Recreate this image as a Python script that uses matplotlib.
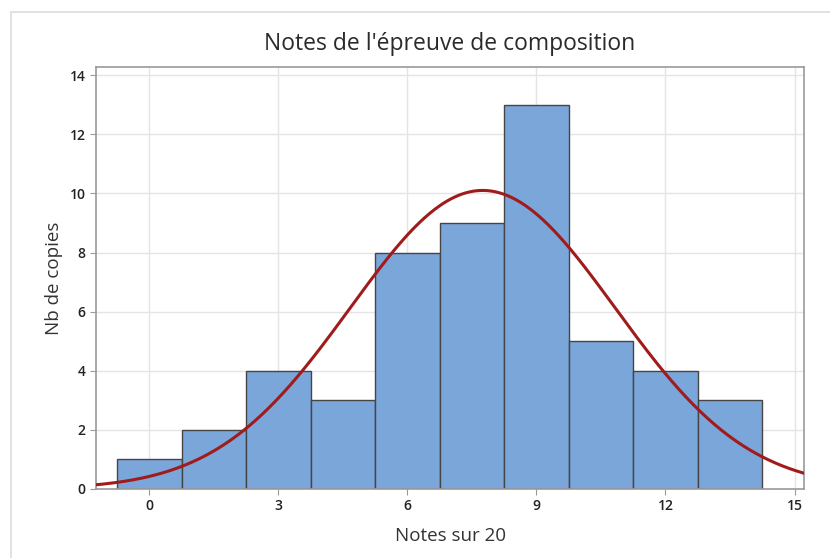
import numpy as np
import matplotlib
matplotlib.use('Agg')
import matplotlib.pyplot as plt
from matplotlib.patches import Rectangle

# histogram data
bin_centers = [0, 1.5, 3, 4.5, 6, 7.5, 9, 10.5, 12, 13.5]
counts = [1, 2, 4, 3, 8, 9, 13, 5, 4, 3]
bin_width = 1.5

# fitted normal curve
fit_mean = 7.75
fit_sigma = 3.08

x_ticks = [0, 3, 6, 9, 12, 15]
y_ticks = [0, 2, 4, 6, 8, 10, 12, 14]

plt.rcParams['font.family'] = ['Open Sans', 'DejaVu Sans']

fig = plt.figure(figsize=(8.3, 5.58), dpi=100)
fig.patches.append(Rectangle((11 / 830, -0.1), 1.2, 1 - 12 / 558 + 0.1, transform=fig.transFigure,
                             fill=False, edgecolor='#dcdcdc', linewidth=1.2))
ax = fig.add_axes([96 / 830, 1 - 489 / 558, (804 - 96) / 830, (489 - 67) / 558])

ax.bar(bin_centers, counts, width=bin_width, color='#7ba6d9', edgecolor='#454545',
       linewidth=1.0, zorder=2)

n = sum(counts)
xs = np.linspace(-1.3, 15.3, 400)
ys = n * bin_width / (fit_sigma * np.sqrt(2 * np.pi)) * np.exp(-0.5 * ((xs - fit_mean) / fit_sigma) ** 2)
ax.plot(xs, ys, color='#a01c1c', linewidth=2.2, zorder=3)

ax.set_xlim(-1.24, 15.22)
ax.set_ylim(0, 14.28)
ax.set_xticks(x_ticks)
ax.set_yticks(y_ticks)
ax.grid(True, color='#e4e4e4', linewidth=1.0, zorder=0)
ax.set_axisbelow(True)
for s in ax.spines.values():
    s.set_color('#9a9a9a')
    s.set_linewidth(1.2)
ax.tick_params(colors='#9a9a9a', labelcolor='#222222', labelsize=10, length=4)
for lbl in ax.get_xticklabels() + ax.get_yticklabels():
    lbl.set_fontweight('semibold')

ax.set_title("Notes de l'épreuve de composition", fontsize=16.5, color='#2a2a2a', pad=12)
ax.set_xlabel('Notes sur 20', fontsize=13.5, color='#333333', labelpad=10)
ax.set_ylabel('Nb de copies', fontsize=13.5, color='#333333', labelpad=5)

fig.savefig('out.png', dpi=100)
